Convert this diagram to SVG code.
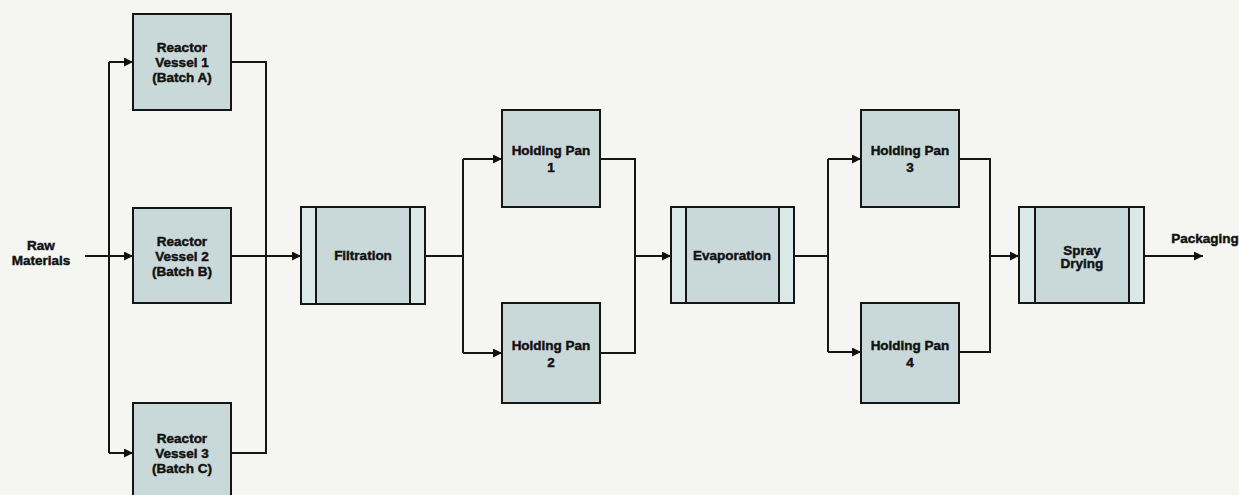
<svg xmlns="http://www.w3.org/2000/svg" width="1239" height="495" viewBox="0 0 1239 495">
<defs>
<marker id="ah" viewBox="0 0 10 10" refX="10" refY="5" markerWidth="10" markerHeight="9" markerUnits="userSpaceOnUse" orient="auto">
<path d="M0,0 L10,5 L0,10 z" fill="#111"/>
</marker>
<style>
.box{fill:#c9d8d8;stroke:#151515;stroke-width:2}
.strip{fill:#dbe8e8;stroke:#151515;stroke-width:2}
.ln{fill:none;stroke:#151515;stroke-width:2}
.arr{fill:none;stroke:#151515;stroke-width:2;marker-end:url(#ah)}
text{font-family:"Liberation Sans",Arial,sans-serif;font-weight:bold;font-size:13.5px;fill:#111;stroke:#111;stroke-width:0.45;text-anchor:middle}
</style>
</defs>
<rect width="1239" height="495" fill="#f5f5f1"/>
<g id="connectors">
<path class="arr" d="M85,256 H133"/>
<path class="ln" d="M109,62 V453"/>
<path class="arr" d="M109,62 H133"/>
<path class="arr" d="M109,453 H133"/>
<path class="ln" d="M231,62 H266 V453 H231"/>
<path class="arr" d="M231,256 H301"/>
<path class="ln" d="M425,256 H463"/>
<path class="ln" d="M463,159 V353"/>
<path class="arr" d="M463,159 H502"/>
<path class="arr" d="M463,353 H502"/>
<path class="ln" d="M600,159 H635 V353 H600"/>
<path class="arr" d="M635,256 H671"/>
<path class="ln" d="M794,256 H828"/>
<path class="ln" d="M828,159 V352"/>
<path class="arr" d="M828,159 H861"/>
<path class="arr" d="M828,352 H861"/>
<path class="ln" d="M959,159 H990 V352 H959"/>
<path class="arr" d="M990,256 H1019"/>
<path class="arr" d="M1144,256 H1203"/>
</g>
<g id="raw-materials"><text x="41" y="250">Raw</text><text x="41" y="265">Materials</text></g>
<g id="reactor1"><rect class="box" x="133" y="14" width="98" height="96"/><text x="182" y="52">Reactor</text><text x="182" y="67">Vessel 1</text><text x="182" y="82">(Batch A)</text></g>
<g id="reactor2"><rect class="box" x="133" y="208" width="98" height="95"/><text x="182" y="246">Reactor</text><text x="182" y="261">Vessel 2</text><text x="182" y="276">(Batch B)</text></g>
<g id="reactor3"><rect class="box" x="133" y="403" width="98" height="96"/><text x="182" y="443">Reactor</text><text x="182" y="458">Vessel 3</text><text x="182" y="473">(Batch C)</text></g>
<g id="filtration"><rect class="strip" x="301" y="207" width="124" height="97"/><rect class="box" x="316" y="207" width="94" height="97"/><text x="363" y="260">Filtration</text></g>
<g id="pan1"><rect class="box" x="502" y="110" width="98" height="97"/><text x="551" y="155">Holding Pan</text><text x="551" y="172">1</text></g>
<g id="pan2"><rect class="box" x="502" y="303" width="98" height="100"/><text x="551" y="350">Holding Pan</text><text x="551" y="367">2</text></g>
<g id="evaporation"><rect class="strip" x="671" y="207" width="123" height="96"/><rect class="box" x="686" y="207" width="93" height="96"/><text x="732" y="260">Evaporation</text></g>
<g id="pan3"><rect class="box" x="861" y="110" width="98" height="97"/><text x="910" y="155">Holding Pan</text><text x="910" y="172">3</text></g>
<g id="pan4"><rect class="box" x="861" y="303" width="98" height="100"/><text x="910" y="350">Holding Pan</text><text x="910" y="367">4</text></g>
<g id="spray-drying"><rect class="strip" x="1019" y="207" width="125" height="96"/><rect class="box" x="1035" y="207" width="94" height="96"/><text x="1082" y="255">Spray</text><text x="1082" y="268">Drying</text></g>
<g id="packaging"><text x="1205" y="243">Packaging</text></g>
</svg>
